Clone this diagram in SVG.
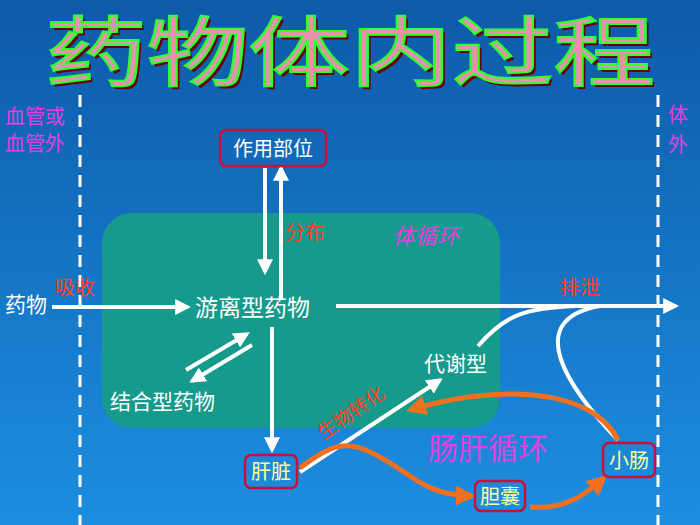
<svg xmlns="http://www.w3.org/2000/svg" width="700" height="525" viewBox="0 0 700 525">
<defs>
<linearGradient id="bg" x1="0" y1="0" x2="0" y2="1"><stop offset="0" stop-color="#0d5aa8"/><stop offset="1" stop-color="#1d8ee0"/></linearGradient>
<marker id="wa" viewBox="0 0 10 10" refX="8" refY="5" markerWidth="4" markerHeight="4" orient="auto"><path d="M0,0L10,5L0,10z" fill="#fff"/></marker>
<marker id="oa" viewBox="0 0 10 10" refX="8" refY="5" markerWidth="4" markerHeight="4" orient="auto"><path d="M0,0L10,5L0,10z" fill="#f07020"/></marker>
<style>
text{font-family:"Noto Sans CJK SC",sans-serif}
.w{fill:#fff;font-size:21px}
.box{fill:none;stroke:#c8103a;stroke-width:2.5}
.yl{fill:#ffffa0;font-size:20px}
.mg{fill:#e040e0;font-size:20px}
.rd{fill:#ff4020;font-size:20px}
.wl{stroke:#fff;stroke-width:4;fill:none}
.ol{stroke:#f07020;stroke-width:5;fill:none}
.dash{stroke:#fff;stroke-width:3;stroke-dasharray:12,8}
</style>
</defs>
<rect width="700" height="525" fill="url(#bg)"/>
<g id="title">
<text x="45" y="80" textLength="610" lengthAdjust="spacingAndGlyphs" font-size="76" fill="#600" transform="translate(3,3)">药物体内过程</text>
<text x="45" y="80" textLength="610" lengthAdjust="spacingAndGlyphs" font-size="76" fill="#e890b0" stroke="#30ff30" stroke-width="2">药物体内过程</text>
</g>
<line class="dash" x1="80" y1="95" x2="80" y2="525"/>
<line class="dash" x1="658" y1="95" x2="658" y2="525"/>
<text class="mg" x="5" y="124">血管或</text>
<text class="mg" x="5" y="151">血管外</text>
<text class="mg" x="668" y="122">体</text>
<text class="mg" x="668" y="152">外</text>
<rect x="102" y="213" width="398" height="215" rx="30" fill="#169a8c"/>
<g id="connectors">
<line class="wl" x1="265" y1="168" x2="265" y2="272" marker-end="url(#wa)"/>
<line class="wl" x1="281" y1="300" x2="281" y2="168" marker-end="url(#wa)"/>
<line class="wl" x1="52" y1="307" x2="188" y2="307" marker-end="url(#wa)"/>
<line class="wl" x1="336" y1="306" x2="676" y2="306" marker-end="url(#wa)"/>
<path class="wl" d="M478,346 C505,315 525,308 575,306"/>
<path class="wl" d="M618,440 C570,390 520,320 600,306"/>
<line class="wl" x1="186" y1="370" x2="247" y2="334" marker-end="url(#wa)"/>
<line class="wl" x1="252" y1="345" x2="192" y2="381" marker-end="url(#wa)"/>
<line class="wl" x1="272" y1="327" x2="272" y2="450" marker-end="url(#wa)"/>
<line class="wl" x1="300" y1="472" x2="440" y2="380" marker-end="url(#wa)"/>
<path class="ol" d="M300,468 C330,445 345,440 370,452 C410,470 420,495 472,496" marker-end="url(#oa)"/>
<path class="ol" d="M530,507 C565,510 585,495 604,478" marker-end="url(#oa)"/>
<path class="ol" d="M618,440 C590,385 490,385 410,410" marker-end="url(#oa)"/>
</g>
<g id="n1"><rect class="box" x="220" y="130" width="106" height="36" rx="6"/><text x="273" y="156" text-anchor="middle" fill="#fff" font-size="20">作用部位</text></g>
<text class="rd" x="285" y="240">分布</text>
<text class="mg" x="393" y="244" style="font-style:italic;font-size:22px">体循环</text>
<text class="w" x="5" y="312">药物</text>
<text class="rd" x="55" y="295">吸收</text>
<g id="n2"><text class="w" x="195" y="316" style="font-size:23px">游离型药物</text></g>
<text class="rd" x="560" y="295">排泄</text>
<g id="n3"><text class="w" x="110" y="409">结合型药物</text></g>
<g id="n4"><text class="w" x="424" y="371">代谢型</text></g>
<text class="rd" x="324" y="440" style="font-size:19px" transform="rotate(-35 324 440)">生物转化</text>
<text class="mg" x="428" y="459" style="font-size:30px">肠肝循环</text>
<g id="n5"><rect class="box" x="245" y="455" width="52" height="33" rx="6"/><text class="yl" x="271" y="479" text-anchor="middle">肝脏</text></g>
<g id="n6"><rect class="box" x="475" y="481" width="50" height="30" rx="6"/><text class="yl" x="500" y="504" text-anchor="middle">胆囊</text></g>
<g id="n7"><rect class="box" x="603" y="443" width="52" height="34" rx="6"/><text class="yl" x="629" y="468" text-anchor="middle">小肠</text></g>
</svg>
